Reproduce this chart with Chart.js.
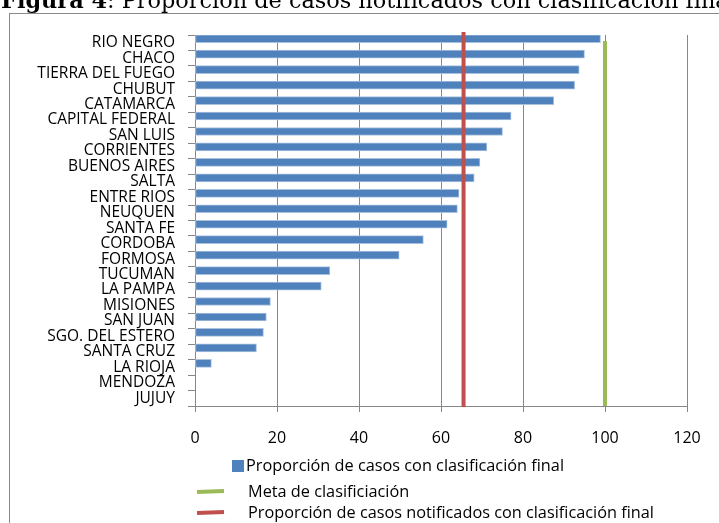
<!DOCTYPE html>
<html lang="es">
<head>
<meta charset="utf-8">
<title>Figura 4</title>
<script src="https://cdn.jsdelivr.net/npm/chart.js@4"></script>
<style>
  html, body { margin: 0; padding: 0; background: #fff; }
  #wrap { position: relative; width: 719px; height: 523px; overflow: hidden; }
  #chart { position: absolute; left: 0; top: 0; }
  #frame { position: absolute; left: 9px; top: 13px; width: 800px; height: 600px;
           border: 1px solid #8a8a8a; pointer-events: none; }
  #title { position: absolute; left: 1px; top: -11px; white-space: nowrap;
           font-family: "DejaVu Serif", serif; font-size: 22.4px; line-height: 1; color: #000; }
</style>
</head>
<body>
<div id="wrap">
  <div id="frame"></div>
  <canvas id="chart" width="719" height="523"></canvas>
  <div id="title"><b>Figura 4</b>: Proporción de casos notificados con clasificación final</div>
</div>
<script>
// Provinces, ordered as shown (top to bottom)
const provinces = [
  'RIO NEGRO', 'CHACO', 'TIERRA DEL FUEGO', 'CHUBUT', 'CATAMARCA',
  'CAPITAL FEDERAL', 'SAN LUIS', 'CORRIENTES', 'BUENOS AIRES', 'SALTA',
  'ENTRE RIOS', 'NEUQUEN', 'SANTA FE', 'CORDOBA', 'FORMOSA',
  'TUCUMAN', 'LA PAMPA', 'MISIONES', 'SAN JUAN', 'SGO. DEL ESTERO',
  'SANTA CRUZ', 'LA RIOJA', 'MENDOZA', 'JUJUY'
];

// Proportion of cases with final classification (%)
const classifiedPct = [
  98.9, 95.0, 93.7, 92.6, 87.5,
  77.1, 75.0, 71.2, 69.5, 68.1,
  64.4, 64.0, 61.5, 55.7, 49.8,
  32.9, 30.8, 18.4, 17.4, 16.7,
  15.0, 4.0, 0, 0
];

// Classification target (%) and its vertical extent on the 0..1 secondary axis
const goalPct = [100, 100];
const goalSpan = [0, 0.984];

// Overall proportion of notified cases with final classification (%)
const overallPct = [65.5, 65.5];
const overallSpan = [-0.003, 1.008];

// x axis ticks
const xTicks = [0, 20, 40, 60, 80, 100, 120];

const seriesNames = [
  'Proporción de casos con clasificación final',
  'Meta de clasificiación',
  'Proporción de casos notificados con clasificación final'
];

const FONT = '"Open Sans", sans-serif';
const GRID = '#878787';

// Vertical legend below the axis
const stackedLegend = {
  id: 'stackedLegend',
  afterDraw(chart) {
    const ctx = chart.ctx;
    const ds = chart.data.datasets;
    const rows = [466, 492, 513];
    ctx.save();
    ctx.font = '16.3px ' + FONT;
    ctx.textBaseline = 'middle';
    ctx.textAlign = 'left';
    ds.forEach((d, i) => {
      const y = rows[i];
      if (d.type === 'bar') {
        ctx.fillStyle = d.backgroundColor;
        ctx.fillRect(232, y - 6, 12, 12);
        ctx.fillStyle = '#000';
        ctx.fillText(d.label, 246, y);
      } else {
        ctx.strokeStyle = d.borderColor;
        ctx.lineWidth = 4;
        ctx.beginPath();
        ctx.moveTo(197, y);
        ctx.lineTo(224, y - 1);
        ctx.stroke();
        ctx.fillStyle = '#000';
        ctx.fillText(d.label, 248, y);
      }
    });
    ctx.restore();
  }
};

new Chart(document.getElementById('chart'), {
  type: 'bar',
  data: {
    labels: provinces,
    datasets: [
      {
        type: 'bar',
        label: seriesNames[0],
        data: classifiedPct,
        backgroundColor: '#4F81BD',
        borderColor: '#A9C1DF',
        borderWidth: 1,
        borderSkipped: false,
        barThickness: 8,
        xAxisID: 'x',
        yAxisID: 'y',
        order: 3
      },
      {
        type: 'line',
        label: seriesNames[1],
        data: goalSpan.map((v, i) => ({ x: goalPct[i], y: v })),
        borderColor: '#9BBB59',
        borderWidth: 4,
        pointRadius: 0,
        xAxisID: 'x',
        yAxisID: 'y2',
        clip: false,
        order: 2
      },
      {
        type: 'line',
        label: seriesNames[2],
        data: overallSpan.map((v, i) => ({ x: overallPct[i], y: v })),
        borderColor: '#C0504D',
        borderWidth: 4,
        pointRadius: 0,
        xAxisID: 'x',
        yAxisID: 'y2',
        clip: false,
        order: 1
      }
    ]
  },
  options: {
    indexAxis: 'y',
    responsive: false,
    animation: false,
    devicePixelRatio: 1,
    layout: { padding: { top: 35, right: 32, left: 0, bottom: 0 } },
    plugins: {
      legend: { display: false },
      tooltip: { enabled: false },
      title: { display: false }
    },
    scales: {
      x: {
        type: 'linear',
        position: 'bottom',
        min: xTicks[0],
        max: xTicks[xTicks.length - 1],
        afterBuildTicks: (s) => { s.ticks = xTicks.map(v => ({ value: v })); },
        afterFit: (s) => { s.height = 117; },
        grid: { color: GRID, lineWidth: 1, tickLength: 6, drawTicks: true },
        border: { color: GRID, width: 1 },
        ticks: { color: '#000', font: { family: FONT, size: 16 }, padding: 17 }
      },
      y: {
        type: 'category',
        position: 'left',
        offset: true,
        afterFit: (s) => { s.width = 195; },
        grid: { display: true, drawOnChartArea: false, offset: true, tickLength: 7, color: GRID },
        border: { color: GRID, width: 1 },
        ticks: { color: '#000', font: { family: FONT, size: 15.5 }, padding: 13, autoSkip: false }
      },
      y2: {
        type: 'linear',
        axis: 'y',
        display: false,
        offset: false,
        min: 0,
        max: 1
      }
    }
  },
  plugins: [stackedLegend]
});
</script>
</body>
</html>
